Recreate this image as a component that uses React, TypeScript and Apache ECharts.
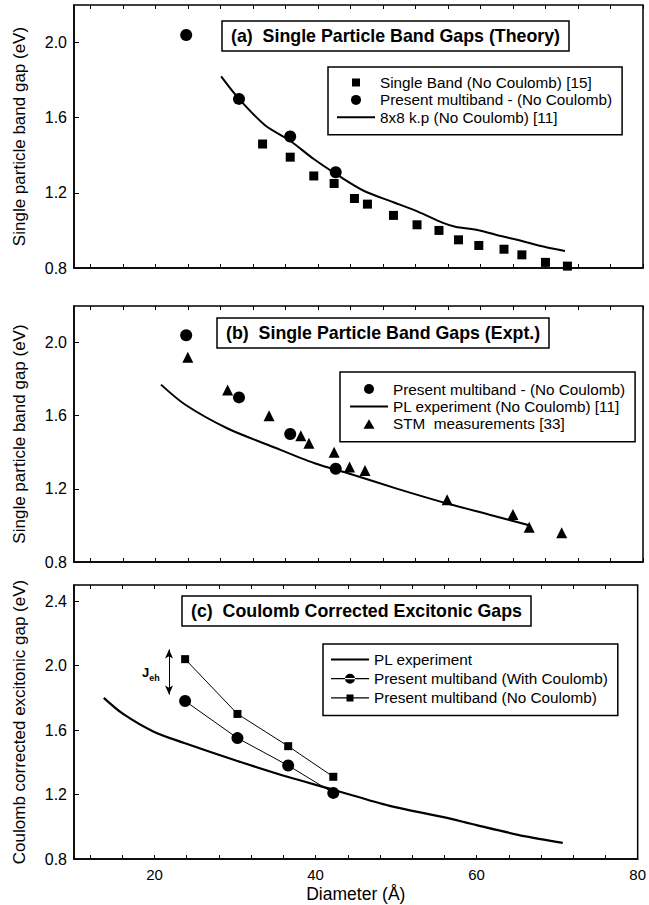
import React, { useEffect, useRef } from "react";
import * as echarts from "echarts";

// ---------- data ----------
const diameterMultiband = [23.8, 30.3, 36.6, 42.2];
const gapMultibandNoCoulomb = [2.04, 1.70, 1.50, 1.31];
const gapMultibandWithCoulomb = [1.78, 1.55, 1.38, 1.21];

const diameterSingleBand = [33.2, 36.6, 39.5, 42.0, 44.5, 46.1, 49.3, 52.2, 54.9, 57.3, 59.8, 62.9, 65.1, 68.0, 70.7];
const gapSingleBand = [1.46, 1.39, 1.29, 1.25, 1.17, 1.14, 1.08, 1.03, 1.00, 0.95, 0.92, 0.90, 0.87, 0.83, 0.81];

const diameterKp = [28.1, 30.3, 33.5, 36.5, 39.5, 42.6, 45.7, 49.3, 52.3, 55.4, 56.9, 59.9, 62.5, 64.5, 68.1, 70.4];
const gapKp = [1.82, 1.70, 1.56, 1.48, 1.38, 1.29, 1.21, 1.15, 1.10, 1.04, 1.02, 1.00, 0.97, 0.95, 0.91, 0.89];

const diameterStm = [24.0, 28.9, 34.0, 37.9, 38.9, 42.0, 43.9, 45.8, 55.9, 64.0, 66.0, 70.0];
const gapStm = [1.92, 1.74, 1.60, 1.49, 1.45, 1.40, 1.32, 1.30, 1.14, 1.06, 0.99, 0.96];

const diameterPlNoCoulomb = [20.7, 23.7, 28.9, 33.9, 39.6, 44.1, 49.8, 55.9, 61.0, 66.1];
const gapPlNoCoulomb = [1.77, 1.66, 1.53, 1.44, 1.34, 1.28, 1.20, 1.12, 1.06, 1.00];

const diameterPl = [13.7, 16.1, 19.9, 23.7, 30.2, 36.5, 42.2, 49.2, 55.9, 60.0, 66.1, 70.7];
const gapPl = [1.80, 1.70, 1.59, 1.52, 1.41, 1.31, 1.23, 1.13, 1.06, 1.01, 0.94, 0.90];

// J_eh annotation (data coordinates)
const jehArrowX = 21.8;
const jehArrowY = [2.10, 1.82];

// ---------- ticks ----------
const xTickValues = [12, 16, 20, 24, 28, 32, 36, 40, 44, 48, 52, 56, 60, 64, 68, 72, 76, 80];
const xLabelValues = [20, 40, 60, 80];
const yTickValuesAB = [0.8, 1.2, 1.6, 2.0];
const yTickValuesC = [0.8, 1.2, 1.6, 2.0, 2.4];

const FONT = "'Liberation Sans', Arial, Helvetica, sans-serif";
const BLACK = "#000";

// legend icons (38 x 10 box; the first two zero-length segments fix the bounds)
const B = "path://M0,0L0,0M38,10L38,10";
const ICON_SQUARE = B + "M15,1H23V9H15Z";
const ICON_CIRCLE = B + "M14,5A5,5 0 1,0 24,5A5,5 0 1,0 14,5Z";
const ICON_TRIANGLE = B + "M13.5,10L19,0.5L24.5,10Z";
const ICON_LINE = B + "M0,4H38V6H0Z";
const ICON_LINE_CIRCLE = B + "M0,4.4H38V5.6H0ZM14,5A5,5 0 1,0 24,5A5,5 0 1,0 14,5Z";
const ICON_LINE_SQUARE = B + "M0,4.4H38V5.6H0ZM15.5,1.5H22.5V8.5H15.5Z";

const zip = (xs: number[], ys: number[]) => xs.map((x, i) => [x, ys[i]]);

function App() {
  const ref = useRef<HTMLDivElement>(null);

  useEffect(() => {
    if (!ref.current) return;
    const chart = echarts.init(ref.current, undefined, { renderer: "svg" });

    const grids = [
      { left: 74, top: 5, width: 569, height: 263 },
      { left: 74, top: 306, width: 569, height: 256 },
      { left: 74, top: 585, width: 569, height: 274 },
    ].map((g) => ({ ...g, show: true, borderColor: BLACK, borderWidth: 1.5, backgroundColor: "transparent" }));

    const xAxes: any[] = [];
    const yAxes: any[] = [];
    grids.forEach((_, gi) => {
      const last = gi === 2;
      xAxes.push({
        gridIndex: gi,
        type: "value",
        min: 10,
        max: 80,
        position: "bottom",
        axisLine: { show: true, lineStyle: { color: BLACK, width: 1.5 } },
        axisTick: { show: true, inside: true, length: 4, customValues: xTickValues, lineStyle: { color: BLACK, width: 1 } },
        axisLabel: last
          ? { show: true, customValues: xLabelValues, color: BLACK, fontSize: 15, fontFamily: FONT, margin: 8 }
          : { show: false },
        splitLine: { show: false },
        name: last ? "Diameter (Å)" : "",
        nameLocation: "middle",
        nameGap: 26,
        nameTextStyle: { color: BLACK, fontSize: 17.5, fontFamily: FONT },
      });
      xAxes.push({
        gridIndex: gi,
        type: "value",
        min: 10,
        max: 80,
        position: "top",
        axisLine: { show: false },
        axisTick: { show: true, inside: true, length: 4, customValues: xTickValues, lineStyle: { color: BLACK, width: 1 } },
        axisLabel: { show: false },
        splitLine: { show: false },
      });
      const yTicks = last ? yTickValuesC : yTickValuesAB;
      yAxes.push({
        gridIndex: gi,
        type: "value",
        min: 0.8,
        max: last ? 2.5 : 2.2,
        position: "left",
        axisLine: { show: true, lineStyle: { color: BLACK, width: 1.5 } },
        axisTick: { show: true, inside: true, length: 5, customValues: yTicks, lineStyle: { color: BLACK, width: 1 } },
        axisLabel: {
          show: true,
          customValues: yTicks,
          formatter: (v: number) => v.toFixed(1),
          color: BLACK,
          fontSize: 16,
          fontFamily: FONT,
          margin: 7,
        },
        splitLine: { show: false },
        name: last ? "Coulomb corrected excitonic gap (eV)" : "Single particle band gap (eV)",
        nameLocation: "middle",
        nameGap: 46,
        nameTextStyle: { color: BLACK, fontSize: 17, fontFamily: FONT },
      });
    });

    const titleBox = (text: string, left: number, top: number) => ({
      text,
      left,
      top,
      borderColor: BLACK,
      borderWidth: 1.5,
      padding: [6, 9, 6, 9],
      textStyle: { color: BLACK, fontSize: 17.8, fontWeight: "bold", fontFamily: FONT },
    });

    const legendBox = (data: any[], left: number, top: number, itemGap: number, padding: number[]) => ({
      data,
      left,
      top,
      orient: "vertical",
      selectedMode: false,
      itemWidth: 38,
      itemHeight: 10,
      itemGap,
      padding,
      borderColor: BLACK,
      borderWidth: 1.5,
      textStyle: { color: BLACK, fontSize: 15.3, fontFamily: FONT },
    });

    const option: any = {
      animation: false,
      backgroundColor: "#fff",
      textStyle: { fontFamily: FONT },
      grid: grids,
      xAxis: xAxes,
      yAxis: yAxes,
      title: [
        titleBox("(a)  Single Particle Band Gaps (Theory)", 222, 21),
        titleBox("(b)  Single Particle Band Gaps (Expt.)", 217, 318),
        titleBox("(c)  Coulomb Corrected Excitonic Gaps", 182, 596),
      ],
      legend: [
        legendBox(
          [
            { name: "Single Band (No Coulomb) [15]", icon: ICON_SQUARE },
            { name: "Present multiband - (No Coulomb)", icon: ICON_CIRCLE },
            { name: "8x8 k.p (No Coulomb) [11]", icon: ICON_LINE },
          ],
          328, 67, 2.4, [8, 10, 10, 9]
        ),
        legendBox(
          [
            { name: "Present multiband - (No Coulomb)", icon: ICON_CIRCLE },
            { name: "PL experiment (No Coulomb) [11]", icon: ICON_LINE },
            { name: "STM  measurements [33]", icon: ICON_TRIANGLE },
          ],
          340, 372, 2.4, [9.5, 10, 10.5, 10]
        ),
        legendBox(
          [
            { name: "PL experiment", icon: ICON_LINE },
            { name: "Present multiband (With Coulomb)", icon: ICON_LINE_CIRCLE },
            { name: "Present multiband (No Coulomb)", icon: ICON_LINE_SQUARE },
          ],
          323, 644, 4.2, [8, 10, 10, 8]
        ),
      ],
      series: [
        // panel (a)
        {
          name: "8x8 k.p (No Coulomb) [11]",
          type: "line",
          xAxisIndex: 0,
          yAxisIndex: 0,
          data: zip(diameterKp, gapKp),
          smooth: 0.3,
          symbol: "none",
          lineStyle: { color: BLACK, width: 2 },
          itemStyle: { color: BLACK },
        },
        {
          name: "Single Band (No Coulomb) [15]",
          type: "scatter",
          xAxisIndex: 0,
          yAxisIndex: 0,
          data: zip(diameterSingleBand, gapSingleBand),
          symbol: "rect",
          symbolSize: 9,
          itemStyle: { color: BLACK, opacity: 1 },
        },
        {
          name: "Present multiband - (No Coulomb)",
          type: "scatter",
          xAxisIndex: 0,
          yAxisIndex: 0,
          data: zip(diameterMultiband, gapMultibandNoCoulomb),
          symbol: "circle",
          symbolSize: 12,
          itemStyle: { color: BLACK, opacity: 1 },
        },
        // panel (b)
        {
          name: "PL experiment (No Coulomb) [11]",
          type: "line",
          xAxisIndex: 2,
          yAxisIndex: 1,
          data: zip(diameterPlNoCoulomb, gapPlNoCoulomb),
          smooth: 0.3,
          symbol: "none",
          lineStyle: { color: BLACK, width: 2 },
          itemStyle: { color: BLACK },
        },
        {
          name: "Present multiband - (No Coulomb)",
          type: "scatter",
          xAxisIndex: 2,
          yAxisIndex: 1,
          data: zip(diameterMultiband, gapMultibandNoCoulomb),
          symbol: "circle",
          symbolSize: 12,
          itemStyle: { color: BLACK, opacity: 1 },
        },
        {
          name: "STM  measurements [33]",
          type: "scatter",
          xAxisIndex: 2,
          yAxisIndex: 1,
          data: zip(diameterStm, gapStm),
          symbol: "triangle",
          symbolSize: 11,
          itemStyle: { color: BLACK, opacity: 1 },
        },
        // panel (c)
        {
          name: "PL experiment",
          type: "line",
          xAxisIndex: 4,
          yAxisIndex: 2,
          data: zip(diameterPl, gapPl),
          smooth: 0.3,
          symbol: "none",
          lineStyle: { color: BLACK, width: 2.2 },
          itemStyle: { color: BLACK },
        },
        {
          name: "Present multiband (With Coulomb)",
          type: "line",
          xAxisIndex: 4,
          yAxisIndex: 2,
          data: zip(diameterMultiband, gapMultibandWithCoulomb),
          symbol: "circle",
          symbolSize: 12,
          showAllSymbol: true,
          lineStyle: { color: BLACK, width: 1 },
          itemStyle: { color: BLACK },
        },
        {
          name: "Present multiband (No Coulomb)",
          type: "line",
          xAxisIndex: 4,
          yAxisIndex: 2,
          data: zip(diameterMultiband, gapMultibandNoCoulomb),
          symbol: "rect",
          symbolSize: 8,
          showAllSymbol: true,
          lineStyle: { color: BLACK, width: 1 },
          itemStyle: { color: BLACK },
          markLine: {
            silent: true,
            symbol: ["arrow", "arrow"],
            symbolSize: [6, 9],
            label: { show: false },
            lineStyle: { color: BLACK, width: 1, type: "solid" },
            data: [[{ coord: [jehArrowX, jehArrowY[0]] }, { coord: [jehArrowX, jehArrowY[1]] }]],
          },
          markPoint: {
            silent: true,
            symbol: "circle",
            symbolSize: 1,
            itemStyle: { color: "rgba(0,0,0,0)" },
            data: [
              {
                coord: [18.9, 1.96],
                label: { show: true, position: "inside", formatter: "J", color: BLACK, fontSize: 13, fontWeight: "bold", fontFamily: FONT },
              },
              {
                coord: [20.0, 1.925],
                label: { show: true, position: "inside", formatter: "eh", color: BLACK, fontSize: 9, fontWeight: "bold", fontFamily: FONT },
              },
            ],
          },
        },
      ],
    };

    chart.setOption(option);
    return () => chart.dispose();
  }, []);

  return (
    <div
      ref={ref}
      style={{ position: "fixed", left: 0, top: 0, width: 649, height: 905, background: "#fff" }}
    />
  );
}

export default App;
